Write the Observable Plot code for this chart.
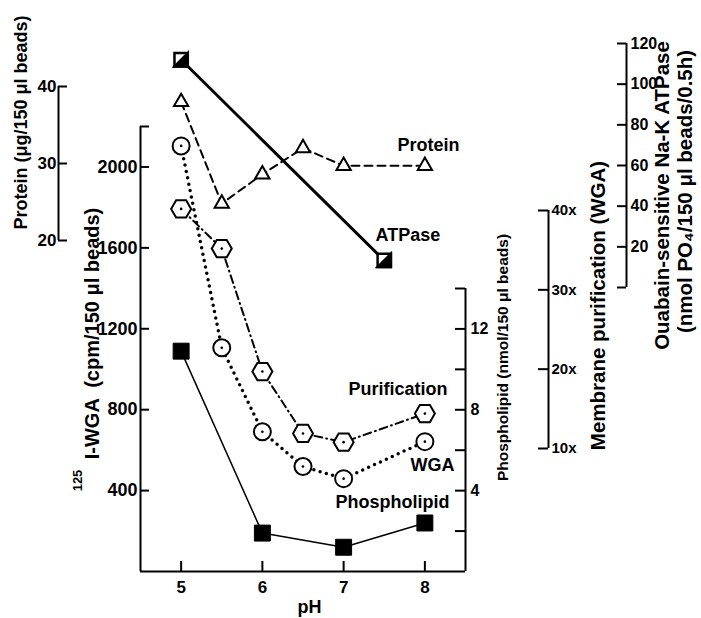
<!DOCTYPE html>
<html><head><meta charset="utf-8">
<script src="https://cdn.jsdelivr.net/npm/d3@7"></script>
<script src="https://cdn.jsdelivr.net/npm/@observablehq/plot@0.6"></script>
<style>
body{margin:0;background:#fff;}
#chart svg{display:block;}
</style></head><body><div id="chart"></div>
<script>
// ---- data ----
const pH = [5, 5.5, 6, 6.5, 7, 8];
const protein = [38, 24.8, 28.6, 32, 29.7, 29.7];          // µg/150 µl beads
const wga = [2104, 1106, 691, 519, 459, 642];               // cpm/150 µl beads
const purification = [40.2, 35.2, 19.7, 11.9, 10.8, 14.4];  // fold
const phPhos = [5, 6, 7, 8];
const phospholipid = [10.9, 1.9, 1.2, 2.4];                 // nmol/150 µl beads
const phAtp = [5, 7.5];
const atpase = [112, 13.3];                                 // nmol PO4/150 µl beads/0.5h

const xTicks = [5, 6, 7, 8];
const wgaTicks = [400, 800, 1200, 1600, 2000];
const proteinTicks = [20, 30, 40];
const phosTicks = [2, 4, 6, 8, 10, 12, 14];
const phosLabels = [4, 8, 12];
const purifTicks = [10, 20, 30, 40];
const atpTicks = [0, 20, 40, 60, 80, 100, 120];
const atpLabels = [20, 40, 60, 80, 100, 120];

// ---- layout ----
const W = 701, H = 618;
const mL = 140, mR = 236, mT = 126, mB = 47;
const xDom = [4.5, 8.5], yDom = [0, 2200];
const xAt = px => xDom[0] + (px - mL) * (xDom[1] - xDom[0]) / (W - mL - mR);
const yAt = py => (H - mB - py) * (yDom[1] - yDom[0]) / (H - mB - mT);
const xLen = px => px * (xDom[1] - xDom[0]) / (W - mL - mR);
const yLen = px => px * (yDom[1] - yDom[0]) / (H - mB - mT);

// secondary axes expressed in the main (cpm) y units
const protC = d3.scaleLinear([20, 40], [yAt(240), yAt(86)]);
const atpC = d3.scaleLinear([0, 120], [yAt(287), yAt(43)]);
const purC = d3.scaleLinear([10, 40], [yAt(448), yAt(210)]);
const phosC = d3.scaleLinear([0, 14], [yAt(571), yAt(288)]);

const rowsProtein = pH.map((p, i) => ({pH: p, y: protC(protein[i])}));
const rowsWga = pH.map((p, i) => ({pH: p, y: wga[i]}));
const rowsPur = pH.map((p, i) => ({pH: p, y: purC(purification[i])}));
const rowsPhos = phPhos.map((p, i) => ({pH: p, y: phosC(phospholipid[i])}));
const rowsAtp = phAtp.map((p, i) => ({pH: p, y: atpC(atpase[i])}));

const hexagon = {draw(ctx, size) {
  const R = Math.sqrt(size / Math.PI), h = R * Math.sqrt(3) / 2;
  ctx.moveTo(R, 0); ctx.lineTo(R / 2, h); ctx.lineTo(-R / 2, h);
  ctx.lineTo(-R, 0); ctx.lineTo(-R / 2, -h); ctx.lineTo(R / 2, -h); ctx.closePath();
}};
const halfSquare = {draw(ctx, size) {
  const s = Math.sqrt(size) / 2;
  ctx.moveTo(s, -s); ctx.lineTo(s, s); ctx.lineTo(-s, s); ctx.closePath();
}};

const FONT = "'Liberation Sans',Arial,sans-serif";
const tickFont = {fontFamily: FONT, fontWeight: "bold", fontSize: 17, fill: "black"};
const titleFont = {fontFamily: FONT, fontWeight: "bold", fontSize: 17, fill: "black"};
const AX = {stroke: "black", strokeWidth: 2};
// horizontal condensing of tick-label groups (the original uses a narrow face)
const condense = {"tk-x": 0.85, "tk-main": 0.9, "tk-phos": 0.85, "tk-prot": 0.85, "tk-pur": 0.78, "tk-atp": 0.8};

const xP = xAt(58), xU = xAt(548), xA = xAt(626);
const title = (s, px, py, size) => Plot.text([s], {x: xAt(px), y: yAt(py), rotate: -90, text: d => d, ...titleFont, fontSize: size});
const label = (s, px, py) => Plot.text([s], {x: xAt(px), y: yAt(py), textAnchor: "start", text: d => d, ...titleFont, fontSize: 18});

const chart = Plot.plot({
  width: W, height: H,
  marginLeft: mL, marginRight: mR, marginTop: mT, marginBottom: mB,
  x: {domain: xDom, axis: null},
  y: {domain: yDom, axis: null},
  style: {background: "white", overflow: "visible"},
  marks: [
    // main frame: left WGA axis, bottom pH axis, right phospholipid axis
    Plot.ruleX([xDom[0]], {y1: 0, y2: yDom[1], ...AX}),
    Plot.ruleY([0], {x1: xDom[0], x2: xDom[1], ...AX}),
    Plot.ruleX([xDom[1]], {y1: 0, y2: phosC(14), ...AX}),
    Plot.ruleX(xTicks, {x: d => d, y1: 0, y2: yLen(10), ...AX}),
    Plot.text(xTicks, {x: d => d, y: 0, dy: 16, text: d => String(d), ...tickFont, fontSize: 17, ariaLabel: "tk-x"}),
    Plot.text(["pH"], {x: xAt(309), y: yAt(607), text: d => d, ...titleFont, fontSize: 18}),
    Plot.ruleY(wgaTicks.concat([yDom[1]]), {y: d => d, x1: xDom[0], x2: xDom[0] + xLen(9), ...AX}),
    Plot.text(wgaTicks, {x: xDom[0], y: d => d, dx: -3, textAnchor: "end", text: d => String(d), ...tickFont, fontSize: 18, ariaLabel: "tk-main"}),
    Plot.ruleY(phosTicks, {y: d => phosC(d), x1: xDom[1] - xLen(10), x2: xDom[1], ...AX}),
    Plot.text(phosLabels, {x: xDom[1], y: d => phosC(d), dx: 5, textAnchor: "start", text: d => String(d), ...tickFont, fontSize: 16, ariaLabel: "tk-phos"}),
    // protein axis
    Plot.ruleX([xP], {y1: protC(20), y2: protC(40), ...AX}),
    Plot.ruleY(proteinTicks, {y: d => protC(d), x1: xP, x2: xP + xLen(9), ...AX}),
    Plot.text(proteinTicks, {x: xP, y: d => protC(d), dx: -2, textAnchor: "end", text: d => String(d), ...tickFont, fontSize: 17, ariaLabel: "tk-prot"}),
    // purification axis
    Plot.ruleX([xU], {y1: purC(10), y2: purC(40), ...AX}),
    Plot.ruleY(purifTicks, {y: d => purC(d), x1: xU - xLen(10), x2: xU, ...AX}),
    Plot.text(purifTicks, {x: xU, y: d => purC(d), dx: 3, textAnchor: "start", text: d => d + "x", ...tickFont, fontSize: 15, ariaLabel: "tk-pur"}),
    // ATPase axis
    Plot.ruleX([xA], {y1: atpC(0), y2: atpC(120), ...AX}),
    Plot.ruleY(atpTicks, {y: d => atpC(d), x1: xA - xLen(9), x2: xA, ...AX}),
    Plot.text(atpLabels, {x: xA, y: d => atpC(d), dx: 4, textAnchor: "start", text: d => String(d), ...tickFont, fontSize: 16, ariaLabel: "tk-atp"}),
    // axis titles
    title("Protein (\u03bcg/150 \u03bcl beads)", 21, 122, 18),
    title("I-WGA  (cpm/150 \u03bcl beads)", 92, 333, 20),
    title("125", 77, 480, 13),
    title("Phospholipid (nmol/150 \u03bcl beads)", 503, 357, 15.5),
    title("Membrane purification (WGA)", 598, 305, 20.5),
    title("Ouabain-sensitive Na-K ATPase", 662, 195, 20.5),
    title("(nmol PO\u2084/150 \u03bcl beads/0.5h)", 685, 191, 20.5),
    // series lines
    Plot.line(rowsAtp, {x: "pH", y: "y", stroke: "black", strokeWidth: 3}),
    Plot.line(rowsProtein, {x: "pH", y: "y", stroke: "black", strokeWidth: 2, strokeDasharray: "8,5"}),
    Plot.line(rowsWga, {x: "pH", y: "y", stroke: "black", strokeWidth: 3.5, strokeDasharray: "0,6.5", strokeLinecap: "round"}),
    Plot.line(rowsPur, {x: "pH", y: "y", stroke: "black", strokeWidth: 2, strokeDasharray: "8,4,1,4"}),
    Plot.line(rowsPhos, {x: "pH", y: "y", stroke: "black", strokeWidth: 1.5}),
    // markers
    Plot.dot(rowsProtein, {x: "pH", y: "y", symbol: "triangle", r: 5.3, fill: "white", stroke: "black", strokeWidth: 2}),
    Plot.dot(rowsWga, {x: "pH", y: "y", symbol: "circle", r: 8.5, fill: "white", stroke: "black", strokeWidth: 2}),
    Plot.dot(rowsPur, {x: "pH", y: "y", symbol: hexagon, r: 10, fill: "white", stroke: "black", strokeWidth: 2}),
    Plot.dot(rowsWga.concat(rowsPur), {x: "pH", y: "y", r: 1.3, fill: "black"}),
    Plot.dot(rowsPhos, {x: "pH", y: "y", symbol: "square", r: 9, fill: "black", stroke: "black", strokeWidth: 1}),
    Plot.dot(rowsAtp, {x: "pH", y: "y", symbol: "square", r: 7.5, fill: "white", stroke: "black", strokeWidth: 2.5}),
    Plot.dot(rowsAtp, {x: "pH", y: "y", symbol: halfSquare, r: 7.5, fill: "black", stroke: "black", strokeWidth: 2.5}),
    // series labels
    label("Protein", 397, 145),
    label("ATPase", 375, 235),
    label("Purification", 348, 389),
    label("WGA", 410, 465),
    label("Phospholipid", 335, 502)
  ]
});
for (const [k, s] of Object.entries(condense)) {
  chart.querySelectorAll(`g[aria-label="${k}"] text`).forEach(t => {
    const tr = t.getAttribute("transform");
    if (tr) t.setAttribute("transform", `${tr} scale(${s},1)`);
    else {
      const x = t.getAttribute("x") || 0, y = t.getAttribute("y") || 0;
      t.removeAttribute("x"); t.removeAttribute("y");
      t.setAttribute("transform", `translate(${x},${y}) scale(${s},1)`);
    }
  });
}
document.getElementById("chart").appendChild(chart);
</script></body></html>
